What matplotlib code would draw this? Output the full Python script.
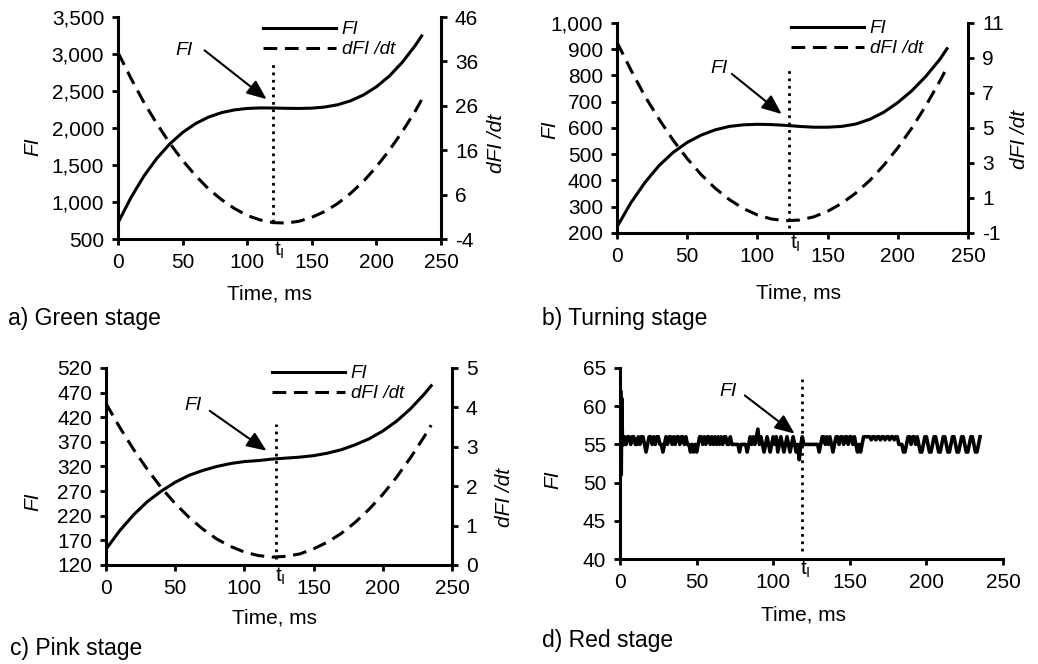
import numpy as np
import matplotlib
matplotlib.use("Agg")
import matplotlib.pyplot as plt
from matplotlib.ticker import FuncFormatter, FixedLocator, MultipleLocator
from matplotlib.transforms import blended_transform_factory

plt.rcParams['font.family'] = ['Liberation Sans', 'DejaVu Sans']
plt.rcParams['font.size'] = 14
plt.rcParams['axes.unicode_minus'] = False
plt.rcParams['mathtext.fontset'] = 'custom'
plt.rcParams['mathtext.rm'] = 'Liberation Sans'
plt.rcParams['mathtext.it'] = 'Liberation Sans:italic'

# time axis (ms) for the smooth stages
time = [0, 10, 20, 30, 40, 50, 60, 70, 80, 90, 100, 110, 120, 130, 140,
        150, 160, 170, 180, 190, 200, 210, 220, 230, 235]

green_fi = [720, 1060, 1350, 1590, 1785, 1940, 2060, 2148, 2208, 2245, 2265,
            2272, 2271, 2267, 2265, 2269, 2284, 2315, 2368, 2448, 2558, 2703,
            2888, 3115, 3245]
green_dfi = [38.0, 32.2, 26.8, 22.0, 17.6, 13.7, 10.3, 7.3, 4.9, 2.9, 1.3, 0.3,
             -0.3, -0.4, 0.0, 0.9, 2.2, 4.0, 6.3, 9.0, 12.3, 16.0, 20.2, 24.8,
             27.4]

turning_fi = [223, 316, 393, 457, 507, 545, 573, 593, 606, 612, 614, 613, 610,
              606, 603, 603, 606, 615, 633, 660, 697, 742, 797, 862, 902]
turning_dfi = [9.9, 8.3, 6.8, 5.5, 4.3, 3.25, 2.33, 1.55, 0.91, 0.40, 0.03,
               -0.2, -0.3, -0.26, -0.08, 0.24, 0.69, 1.28, 2.0, 2.87, 3.87,
               5.0, 6.28, 7.69, 8.45]

pink_fi = [152, 190, 222, 249, 270, 288, 302, 312, 320, 326, 330, 332, 335,
           337, 339, 342, 347, 354, 364, 376, 392, 412, 437, 467, 484]
pink_dfi = [4.10, 3.49, 2.93, 2.42, 1.96, 1.56, 1.21, 0.91, 0.66, 0.47, 0.33,
            0.24, 0.20, 0.22, 0.28, 0.41, 0.58, 0.80, 1.08, 1.41, 1.79, 2.23,
            2.72, 3.26, 3.55]

# red stage: start-up spike, then 1 ms samples from t = 2 to 235
red_spike_t = [0, 0.4, 0.8, 1.2, 1.6]
red_spike_fi = [55, 62, 51, 61, 55]
red_fi = [
    55, 56, 55, 56, 56, 55, 56, 56, 55, 55,
    56, 55, 56, 56, 55, 54, 55, 56, 56, 55,
    56, 55, 56, 56, 55, 55, 54, 55, 56, 55,
    56, 56, 55, 56, 55, 56, 56, 55, 56, 56,
    55, 56, 55, 55, 54, 55, 54, 55, 54, 55,
    56, 56, 55, 56, 55, 56, 56, 55, 56, 55,
    56, 55, 56, 55, 56, 55, 56, 56, 55, 55,
    56, 55, 55, 55, 55, 55, 54, 55, 55, 55,
    55, 54, 55, 56, 55, 56, 55, 56, 57, 55,
    56, 55, 54, 55, 56, 55, 54, 55, 56, 55,
    56, 54, 55, 56, 55, 54, 55, 56, 55, 54,
    55, 56, 55, 54, 55, 53, 55, 56, 55, 55,
    55, 55, 55, 55, 55, 55, 55, 55, 54, 55,
    56, 56, 55, 56, 55, 56, 55, 54, 55, 56,
    56, 55, 56, 56, 55, 56, 56, 55, 56, 56,
    55, 56, 55, 54, 55, 54, 55, 56, 56, 56,
    56, 56, 55.6, 56, 56, 55.6, 56, 56, 55.6, 56,
    56, 55.6, 56, 56, 55.6, 56, 56, 55.6, 56, 56,
    55, 55, 55, 54, 54, 55, 56, 56, 55, 56,
    56, 55, 56, 55, 54, 54, 55, 56, 56, 55,
    54, 54, 55, 56, 56, 55, 54, 54, 55, 56,
    56, 55, 54, 54, 55, 56, 56, 55, 54, 54,
    55, 56, 56, 55, 54, 54, 55, 56, 56, 55,
    54, 54, 55, 56]
red_t = np.arange(2, 2 + len(red_fi))

# tick values
green_left_ticks = [500, 1000, 1500, 2000, 2500, 3000, 3500]
green_right_ticks = [-4, 6, 16, 26, 36, 46]
turning_left_ticks = [200, 300, 400, 500, 600, 700, 800, 900, 1000]
turning_right_ticks = [-1, 1, 3, 5, 7, 9, 11]
pink_left_ticks = [120, 170, 220, 270, 320, 370, 420, 470, 520]
pink_right_ticks = [0, 1, 2, 3, 4, 5]
red_left_ticks = [40, 45, 50, 55, 60, 65]

comma = FuncFormatter(lambda v, p: f"{v:,.0f}")
LW = 2.2
TICK_FS = 15


def style_left(ax, ticks):
    ax.set_xlim(0, 250)
    ax.set_ylim(ticks[0], ticks[-1])
    ax.xaxis.set_major_locator(MultipleLocator(50))
    ax.yaxis.set_major_locator(FixedLocator(ticks))
    ax.spines['top'].set_visible(False)
    ax.spines['right'].set_visible(False)
    for s in ['left', 'bottom']:
        ax.spines[s].set_linewidth(LW)
    ax.tick_params(direction='out', length=4, width=2, pad=6,
                   labelsize=TICK_FS)


def style_right(ax, ticks):
    tw = ax.twinx()
    tw.set_ylim(ticks[0], ticks[-1])
    tw.yaxis.set_major_locator(FixedLocator(ticks))
    for s in ['left', 'top', 'bottom']:
        tw.spines[s].set_visible(False)
    tw.spines['right'].set_linewidth(LW)
    tw.tick_params(direction='out', length=4, width=2, pad=6,
                   labelsize=TICK_FS)
    return tw


def marker(ax, t_i, y0, y1, txt_xy, tail, head, tlab_x, tlab_y):
    ax.plot([t_i, t_i], [y0, y1], color='black', lw=2, ls=':', zorder=5)
    ax.text(txt_xy[0], txt_xy[1], 'FI', style='italic', ha='center',
            va='center', fontsize=14)
    ax.annotate('', xy=head, xytext=tail,
                arrowprops=dict(arrowstyle='-|>,head_length=0.6,head_width=0.25',
                                color='black', lw=1.5, mutation_scale=20,
                                shrinkA=0, shrinkB=0))
    tr = blended_transform_factory(ax.transData, ax.transAxes)
    ax.text(tlab_x, tlab_y, r'$\mathregular{t_I}$', transform=tr,
            ha='center', va='center', fontsize=15)


def labels(ax, xl, yl):
    ax.set_xlabel('Time, ms', fontsize=15)
    ax.xaxis.set_label_coords(*xl)
    ax.xaxis.label.set_va('center')
    ax.set_ylabel('FI', style='italic', fontsize=15)
    ax.yaxis.set_label_coords(*yl)
    ax.yaxis.label.set_va('center')


def twin_label(tw, coords):
    tw.set_ylabel('dFI /dt', style='italic', fontsize=15)
    tw.yaxis.set_label_coords(*coords)
    tw.yaxis.label.set_va('center')


def add_legend(ax, h1, h2, anchor):
    ax.legend([h1, h2], ['FI', 'dFI /dt'], loc='upper left',
              bbox_to_anchor=anchor, frameon=False, borderpad=0,
              borderaxespad=0, handlelength=3.9, handletextpad=0.3,
              labelspacing=0.15, prop={'style': 'italic', 'size': 13.5})


fig = plt.figure(figsize=(10.38, 6.64), dpi=100)

# a) green
ax = fig.add_axes([0.1137, 0.640, 0.3112, 0.3343])
style_left(ax, green_left_ticks)
ax.yaxis.set_major_formatter(comma)
tw = style_right(ax, green_right_ticks)
h1, = ax.plot(time, green_fi, color='black', lw=LW)
h2, = tw.plot(time, green_dfi, color='black', lw=LW, dashes=(4.5, 2.5))
marker(ax, 120, 725, 2900, (51, 3050), (67, 3050), (115, 2390), 125, -0.05)
labels(ax, (0.47, -0.248), (-0.263, 0.414))
twin_label(tw, (1.173, 0.43))
add_legend(tw, h1, h2, (0.449, 0.982))

# b) turning
ax = fig.add_axes([0.5944, 0.6491, 0.3382, 0.3163])
style_left(ax, turning_left_ticks)
ax.yaxis.set_major_formatter(comma)
tw = style_right(ax, turning_right_ticks)
h1, = ax.plot(time, turning_fi, color='black', lw=LW)
h2, = tw.plot(time, turning_dfi, color='black', lw=LW, dashes=(4.5, 2.5))
marker(ax, 122.5, 219, 820, (72.7, 825), (81.8, 806), (117.3, 653), 126.8,
       -0.048)
labels(ax, (0.517, -0.286), (-0.191, 0.49))
twin_label(tw, (1.148, 0.443))
add_legend(tw, h1, h2, (0.496, 1.014))

# c) pink
ax = fig.add_axes([0.1021, 0.1491, 0.3333, 0.2967])
style_left(ax, pink_left_ticks)
tw = style_right(ax, pink_right_ticks)
h1, = ax.plot(time, pink_fi, color='black', lw=LW)
h2, = tw.plot(time, pink_dfi, color='black', lw=LW, dashes=(4.5, 2.5))
marker(ax, 123, 133, 406, (63, 444), (75, 433), (116, 352), 126.3, -0.056)
labels(ax, (0.488, -0.269), (-0.211, 0.32))
twin_label(tw, (1.153, 0.345))
add_legend(tw, h1, h2, (0.48, 1.015))

# d) red
ax = fig.add_axes([0.5973, 0.1581, 0.369, 0.2877])
style_left(ax, red_left_ticks)
ax.plot(red_spike_t, red_spike_fi, color='black', lw=2.6)
ax.plot(red_t, red_fi, color='black', lw=2.6)
marker(ax, 118.5, 41, 63.6, (70.7, 61.9), (81.5, 61.4), (114, 56.4), 121.3,
       -0.052)
labels(ax, (0.479, -0.293), (-0.175, 0.414))

fig.text(8 / 1038, 1 - 319 / 664, 'a) Green stage', fontsize=16.5,
         va='center')
fig.text(542 / 1038, 1 - 319 / 664, 'b) Turning stage', fontsize=16.5,
         va='center')
fig.text(10 / 1038, 1 - 649 / 664, 'c) Pink stage', fontsize=16.5,
         va='center')
fig.text(542 / 1038, 1 - 641 / 664, 'd) Red stage', fontsize=16.5,
         va='center')

fig.savefig('out.png', dpi=100)
